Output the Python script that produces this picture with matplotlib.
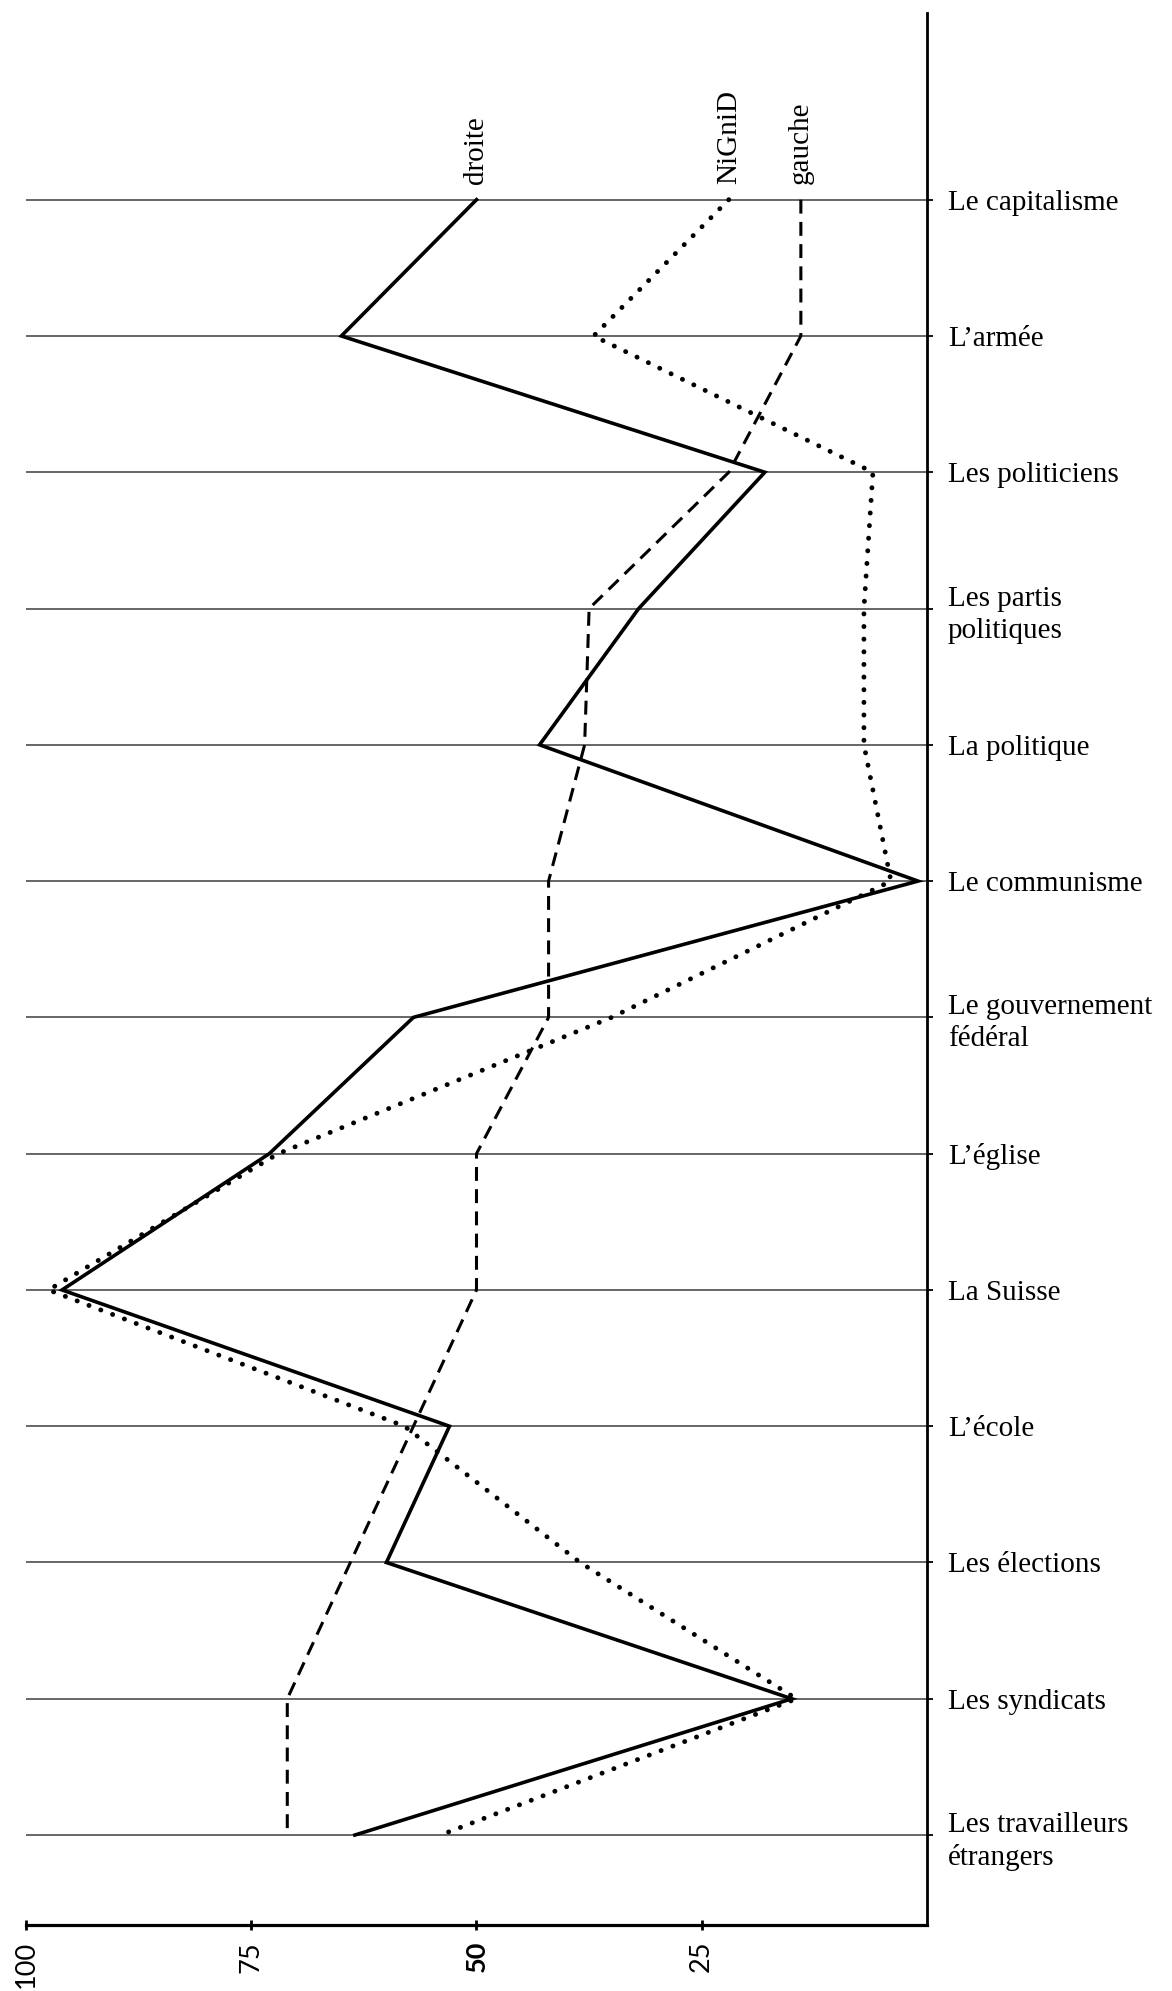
import matplotlib
matplotlib.use("Agg")
import matplotlib.pyplot as plt

# categories, top to bottom
categories = [
    "Le capitalisme", "L\u2019armée", "Les politiciens", "Les partis\npolitiques",
    "La politique", "Le communisme", "Le gouvernement\nfédéral", "L\u2019église",
    "La Suisse", "L\u2019école", "Les élections", "Les syndicats",
    "Les travailleurs\nétrangers",
]

droite = [50, 65, 18, 32, 43, 1, 57, 73, 96, 53, 60, 15, 63.5]
nignid = [22, 37, 6, 7, 7, 4, 35, 72, 97.5, 58, 38.5, 14.5, 54]
gauche = [14, 14, 22, 37.5, 38, 42, 42, 50, 50, 57, 64, 71, 71]

xticks = [100, 75, 50, 25]
xtick_labels = ["100", "75", "50", "25"]

plt.rcParams['lines.scale_dashes'] = False

fig = plt.figure(figsize=(11.72, 19.91), dpi=100)
ax = fig.add_axes([26 / 1172, 1 - 1925 / 1991, 901 / 1172, 1912 / 1991])

ypos = list(range(len(categories)))

# horizontal guide lines
for y in ypos:
    ax.plot([100, 0], [y, y], color='#5a5a5a', lw=1.3, zorder=1)

ax.plot(droite, ypos, color='black', lw=2.6, solid_joinstyle='miter', zorder=3)
ax.plot(nignid, ypos, color='black', lw=3.5, linestyle=(0, (0.1, 9.0)),
        dash_capstyle='round', zorder=3)
ax.plot(gauche, ypos, color='black', lw=2.2, linestyle=(0, (10, 6)), zorder=3)

# series names above the first category
for name, vals in [("droite", droite), ("NiGniD", nignid), ("gauche", gauche)]:
    ax.annotate(name, xy=(vals[0], 0), xytext=(0, 11), textcoords='offset points',
                rotation=90, ha='center', va='bottom', fontsize=21,
                family='Liberation Serif')

ax.set_xlim(100, 0)
ax.set_ylim(len(categories) - 1 + 0.66, -1.37)

for s in ['left', 'top']:
    ax.spines[s].set_visible(False)
ax.spines['bottom'].set_linewidth(2.3)
ax.spines['right'].set_linewidth(2.0)

ax.set_xticks(xticks)
ax.set_xticklabels(xtick_labels, rotation=90, fontsize=19.5, family='Lato')
ax.get_xticklabels()[2].set_fontweight('bold')
ax.tick_params(axis='x', direction='inout', length=7, width=2, pad=8)

ax.yaxis.tick_right()
ax.set_yticks(ypos)
ax.set_yticklabels(categories, fontsize=21, family='Liberation Serif', linespacing=1.3)
ax.tick_params(axis='y', direction='out', length=4, width=1.3, pad=11)

fig.savefig("out.png", dpi=100)
